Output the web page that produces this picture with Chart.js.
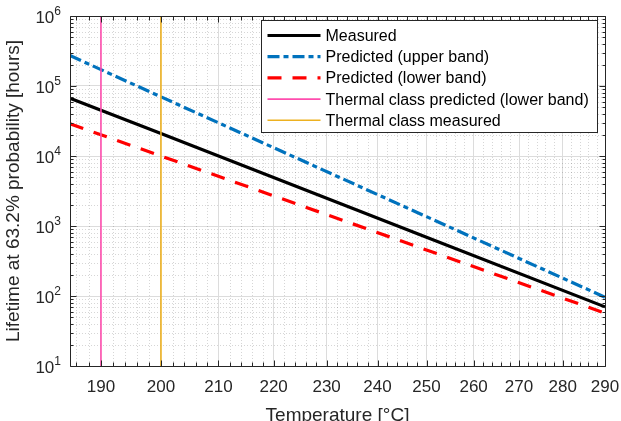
<!DOCTYPE html>
<html>
<head>
<meta charset="utf-8">
<script src="https://cdn.jsdelivr.net/npm/chart.js@4"></script>
<style>
  html, body { margin: 0; padding: 0; background: #fff; overflow: hidden; }
  canvas { display: block; }
</style>
</head>
<body>
<canvas id="lifetimeChart" width="621" height="421"></canvas>
<script>
// Lifetime lines (°C -> hours at 63.2% probability)
const temperatures = [185, 200, 250, 290];
const measured = [67000, 21000, 690, 70];
const predictedUpper = [272000, 70000, 1360, 96];
const predictedLower = [28800, 10000, 455, 57];

// Thermal class markers (°C)
const thermalClassPredicted = 190;
const thermalClassMeasured = 200;

const tempRange = [185, 290];
const lifeRange = [1e1, 1e6];
const xTickLabels = [190, 200, 210, 220, 230, 240, 250, 260, 270, 280, 290];
const yTickLabels = [1e1, 1e2, 1e3, 1e4, 1e5, 1e6];

const FONT = "'Liberation Sans', Arial, Helvetica, sans-serif";
const AXIS_COLOR = "#262626";

// x axis is Arrhenius-style: 1000/K, reversed so temperature grows to the right
const invT = (t) => 1000 / (t + 273.15);

function points(values) {
  return temperatures.map((t, i) => ({ x: invT(t), y: values[i] }));
}

function vline(t) {
  return [{ x: invT(t), y: lifeRange[0] }, { x: invT(t), y: lifeRange[1] }];
}

// minor tick/grid positions (MATLAB-ish: every 2 °C, 2..9 per decade)
const xMinor = [];
for (let t = tempRange[0] + 1; t <= tempRange[1]; t += 2) {
  if (t % 10 !== 0) xMinor.push(t);
}
const yMinor = [];
for (let e = 1; e < 6; e++) {
  for (let m = 2; m <= 9; m++) yMinor.push(m * Math.pow(10, e));
}

const datasets = [
  { label: "Measured", data: points(measured), borderColor: "#000000", borderWidth: 3.2, order: 3 },
  { label: "Predicted (upper band)", data: points(predictedUpper), borderColor: "#0072BD", borderWidth: 3.2, borderDash: [12, 4, 5, 4], order: 4 },
  { label: "Predicted (lower band)", data: points(predictedLower), borderColor: "#FF0000", borderWidth: 3.2, borderDash: [14, 11], order: 5 },
  { label: "Thermal class predicted (lower band)", data: vline(thermalClassPredicted), borderColor: "#FF4DAE", borderWidth: 1.6, order: 1 },
  { label: "Thermal class measured", data: vline(thermalClassMeasured), borderColor: "#EDB120", borderWidth: 1.6, order: 2 },
];

// ─── grid, box, inward ticks, 10^n labels and legend drawn MATLAB style ─────
const matlabAxes = {
  id: "matlabAxes",
  beforeDatasetsDraw(chart) {
    const { ctx, chartArea: a, scales: { x, y } } = chart;
    ctx.save();
    ctx.strokeStyle = "rgba(0,0,0,0.16)";
    ctx.lineWidth = 1;
    ctx.setLineDash([1, 2]);
    ctx.beginPath();
    for (const t of xMinor) {
      const px = Math.round(x.getPixelForValue(invT(t))) + 0.5;
      ctx.moveTo(px, a.top);
      ctx.lineTo(px, a.bottom);
    }
    for (const v of yMinor) {
      const py = Math.round(y.getPixelForValue(v)) + 0.5;
      ctx.moveTo(a.left, py);
      ctx.lineTo(a.right, py);
    }
    ctx.stroke();
    ctx.restore();
  },
  afterDatasetsDraw(chart) {
    const { ctx, chartArea: a, scales: { x, y } } = chart;
    const L = Math.round(a.left) + 0.5, R = Math.round(a.right) + 0.5;
    const T = Math.round(a.top) + 0.5, B = Math.round(a.bottom) + 0.5;
    ctx.save();
    ctx.strokeStyle = AXIS_COLOR;
    ctx.lineWidth = 1;
    ctx.beginPath();
    const xTick = (t, len) => {
      const px = Math.round(x.getPixelForValue(invT(t))) + 0.5;
      ctx.moveTo(px, B); ctx.lineTo(px, B - len);
      ctx.moveTo(px, T); ctx.lineTo(px, T + len);
    };
    const yTick = (v, len) => {
      const py = Math.round(y.getPixelForValue(v)) + 0.5;
      ctx.moveTo(L, py); ctx.lineTo(L + len, py);
      ctx.moveTo(R, py); ctx.lineTo(R - len, py);
    };
    xTickLabels.forEach((t) => xTick(t, 6));
    xMinor.forEach((t) => xTick(t, 4));
    yTickLabels.forEach((v) => yTick(v, 6));
    yMinor.forEach((v) => yTick(v, 3));
    ctx.rect(L, T, R - L, B - T);
    ctx.stroke();

    // y tick labels as 10 with a raised exponent
    ctx.fillStyle = AXIS_COLOR;
    ctx.textBaseline = "alphabetic";
    yTickLabels.forEach((v) => {
      const py = y.getPixelForValue(v);
      const exp = String(Math.round(Math.log10(v)));
      ctx.font = `12px ${FONT}`;
      const ew = ctx.measureText(exp).width;
      const right = a.left - 9;
      ctx.textAlign = "right";
      ctx.fillText(exp, right, py - 1);
      ctx.font = `17px ${FONT}`;
      ctx.fillText("10", right - ew, py + 7);
    });
    ctx.restore();
  },
  afterDraw(chart) {
    const { ctx, chartArea: a } = chart;
    const w = 336, h = 112;
    const left = Math.round(a.right) - 8 - w + 0.5;
    const top = Math.round(a.top) + 4 + 0.5;
    ctx.save();
    ctx.fillStyle = "#ffffff";
    ctx.fillRect(left, top, w, h);
    ctx.strokeStyle = AXIS_COLOR;
    ctx.lineWidth = 1;
    ctx.strokeRect(left, top, w, h);
    ctx.font = `16px ${FONT}`;
    ctx.textBaseline = "middle";
    chart.data.datasets.forEach((ds, i) => {
      const cy = top + 15 + i * 21.2;
      ctx.beginPath();
      ctx.strokeStyle = ds.borderColor;
      ctx.lineWidth = ds.borderWidth;
      ctx.setLineDash(ds.borderDash || []);
      ctx.moveTo(left + 6, cy);
      ctx.lineTo(left + 59, cy);
      ctx.stroke();
      ctx.setLineDash([]);
      ctx.fillStyle = "#000000";
      ctx.fillText(ds.label, left + 64, cy + 1);
    });
    ctx.restore();
  },
};

new Chart(document.getElementById("lifetimeChart"), {
  type: "line",
  data: { datasets },
  plugins: [matlabAxes],
  options: {
    responsive: false,
    animation: false,
    devicePixelRatio: 1,
    layout: { padding: { left: 0, right: 16, top: 16, bottom: 0 } },
    elements: { point: { radius: 0 }, line: { tension: 0, borderCapStyle: "butt" } },
    plugins: { legend: { display: false }, tooltip: { enabled: false } },
    scales: {
      x: {
        type: "linear",
        reverse: true,
        min: invT(tempRange[1]),
        max: invT(tempRange[0]),
        afterBuildTicks: (scale) => {
          scale.ticks = xTickLabels.map((t) => ({ value: invT(t) }));
        },
        afterFit: (scale) => {
          scale.height = 55;
          scale.paddingLeft = 0;
          scale.paddingRight = 0;
        },
        ticks: {
          autoSkip: false,
          maxRotation: 0,
          padding: 11,
          color: AXIS_COLOR,
          font: { family: FONT, size: 17 },
          callback: (v) => String(Math.round(1000 / v - 273.15)),
        },
        grid: { color: "#dcdcdc", drawTicks: false },
        border: { display: false },
        title: {
          display: true,
          text: "Temperature [°C]",
          color: AXIS_COLOR,
          font: { family: FONT, size: 19, lineHeight: 1 },
          padding: { top: 0, bottom: -4 },
        },
      },
      y: {
        type: "logarithmic",
        min: lifeRange[0],
        max: lifeRange[1],
        afterBuildTicks: (scale) => {
          scale.ticks = yTickLabels.map((v) => ({ value: v }));
        },
        afterFit: (scale) => {
          scale.width = 70;
          scale.paddingTop = 0;
          scale.paddingBottom = 0;
        },
        ticks: { display: false },
        grid: { color: "#dcdcdc", drawTicks: false },
        border: { display: false },
        title: {
          display: true,
          text: "Lifetime at 63.2% probability [hours]",
          color: AXIS_COLOR,
          font: { family: FONT, size: 19, lineHeight: 1.2 },
          padding: { top: 2, bottom: 0 },
        },
      },
    },
  },
});
</script>
</body>
</html>
